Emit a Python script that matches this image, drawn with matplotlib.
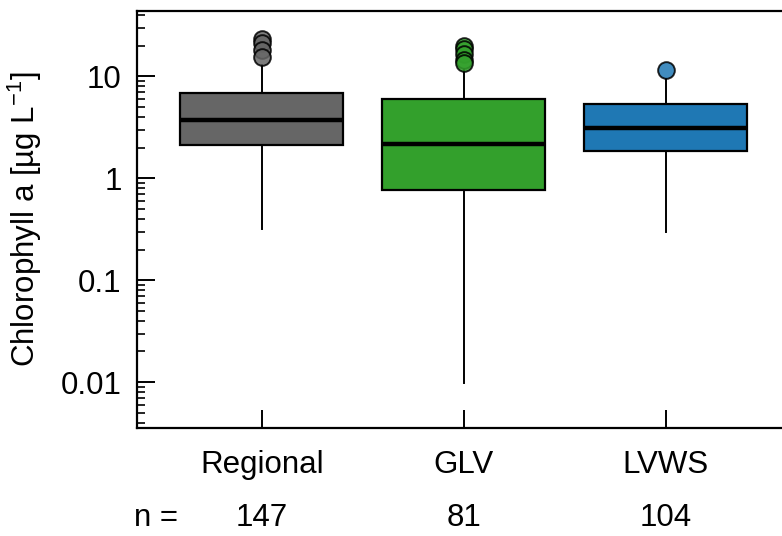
import numpy as np
import matplotlib
matplotlib.use('Agg')
import matplotlib.pyplot as plt

plt.rcParams['font.family'] = ['Liberation Sans', 'DejaVu Sans']
plt.rcParams['mathtext.fontset'] = 'custom'
plt.rcParams['mathtext.rm'] = 'Liberation Sans'
plt.rcParams['mathtext.default'] = 'regular'

# box statistics (chl a, ug/L)
groups = ['Regional', 'GLV', 'LVWS']
counts = [147, 81, 104]
q1 = [2.1, 0.76, 1.84]
med = [3.75, 2.15, 3.08]
q3 = [6.8, 5.95, 5.3]
whislo = [0.32, 0.0098, 0.295]
whishi = [12.8, 11.7, 9.4]
fliers = [[23.5, 21.0, 18.0, 15.5],
          [20.0, 18.5, 16.5, 14.5, 13.5],
          [11.6]]
cols = ['#666666', '#33a02c', '#1f78b4']

stats = []
for i, g in enumerate(groups):
	stats.append({'label': g, 'q1': q1[i], 'med': med[i], 'q3': q3[i],
		'whislo': whislo[i], 'whishi': whishi[i], 'fliers': fliers[i]})

fig = plt.figure(figsize=(7.82, 5.36), dpi=100)
ax = fig.add_axes([0.175, 0.2015, 0.84, 0.7775])

fs = 22.5
pos = [1, 2, 3]
for i in range(len(groups)):
	ax.bxp([stats[i]], positions=[pos[i]], widths=0.807, patch_artist=True, showcaps=False,
		boxprops=dict(facecolor=cols[i], edgecolor='black', linewidth=1.6),
		medianprops=dict(color='black', linewidth=3.2),
		whiskerprops=dict(color='black', linewidth=1.4),
		flierprops=dict(marker='o', markerfacecolor=cols[i], markeredgecolor='black',
			markersize=12, markeredgewidth=1.4, alpha=0.85))

ax.set_yscale('log')
ax.set_ylim(0.00355, 43.5)
ax.set_xlim(0.381, 3.633)
ax.set_yticks([0.01, 0.1, 1, 10])
ax.set_yticklabels(['0.01', '0.1', '1', '10'])
ax.set_xticks(pos)
ax.set_xticklabels(groups)
ax.set_ylabel('Chlorophyll a [µg L$^{-1}$]', fontsize=fs, labelpad=12)

ax.tick_params(axis='both', which='major', direction='in', length=13, width=1.4, labelsize=fs)
ax.tick_params(axis='y', which='major', pad=11)
ax.tick_params(axis='x', which='major', pad=16)
ax.tick_params(axis='y', which='minor', direction='in', length=6, width=1.2)
ax.spines['right'].set_visible(False)
for s in ['left', 'top', 'bottom']:
	ax.spines[s].set_linewidth(1.6)

# sample sizes under the categories
ax.text(-0.005, -0.216, 'n =', transform=ax.transAxes, fontsize=fs, ha='left', va='center')
tr = matplotlib.transforms.blended_transform_factory(ax.transData, ax.transAxes)
for i, n in enumerate(counts):
	ax.text(pos[i], -0.216, str(n), transform=tr, fontsize=fs, ha='center', va='center')

plt.savefig('out.png', dpi=100)
